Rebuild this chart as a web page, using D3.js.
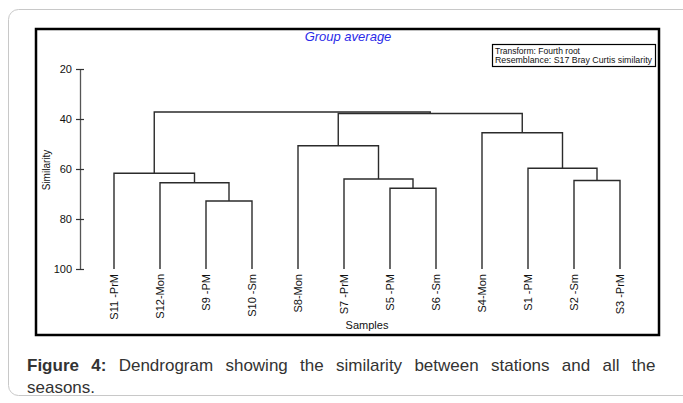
<!DOCTYPE html>
<html>
<head>
<meta charset="utf-8">
<script src="https://cdn.jsdelivr.net/npm/d3@7"></script>
<style>
  body { margin: 0; background: #fff; }
  svg { display: block; font-family: "Liberation Sans", Arial, sans-serif; }
</style>
</head>
<body>
<script>
// Leaf order along the x axis
var leaves = ["S11 -PrM", "S12-Mon", "S9 -PM", "S10 -Sm", "S8-Mon", "S7 -PrM",
              "S5 -PM", "S6 -Sm", "S4-Mon", "S1 -PM", "S2 -Sm", "S3 -PrM"];

// Merges: node ids 0..11 are leaves, merge k gets id 12 + k
var mergeLeft   = [2, 1, 0, 6, 5, 4, 10, 9, 8, 17, 14];
var mergeRight  = [3, 12, 13, 7, 15, 16, 11, 18, 19, 20, 21];
var mergeHeight = [72.8, 65.5, 61.7, 67.7, 64.0, 50.7, 64.6, 59.7, 45.5, 37.8, 37.2];

var yTicks = [20, 40, 60, 80, 100];

var width = 683, height = 403;

var svg = d3.select("body").append("svg")
    .attr("width", width)
    .attr("height", height);

// outer card
svg.append("rect")
    .attr("x", 8.5).attr("y", 9.5)
    .attr("width", 700).attr("height", 386)
    .attr("rx", 10)
    .style("fill", "none")
    .style("stroke", "#c8c8c8");

// chart frame
svg.append("rect")
    .attr("x", 36).attr("y", 29)
    .attr("width", 623).attr("height", 306)
    .style("fill", "#fff")
    .style("stroke", "#000")
    .style("stroke-width", 2.5);

var x = d3.scalePoint().domain(leaves).range([114, 620]),
    y = d3.scaleLinear().domain([20, 100]).range([69, 269]);

// node positions
var nodeX = leaves.map(function(d) { return x(d); }),
    nodeY = leaves.map(function() { return y(100); });

mergeHeight.forEach(function(h, i) {
  nodeX.push((nodeX[mergeLeft[i]] + nodeX[mergeRight[i]]) / 2);
  nodeY.push(y(h));
});

var links = svg.append("g")
    .style("fill", "none")
    .style("stroke", "#2b2b2b")
    .style("stroke-width", 1.4);

mergeHeight.forEach(function(h, i) {
  var a = mergeLeft[i], b = mergeRight[i], yy = y(h);
  links.append("path")
      .attr("d", "M" + nodeX[a] + "," + nodeY[a] +
                 "V" + yy + "H" + nodeX[b] + "V" + nodeY[b]);
});

// y axis
var yAxis = svg.append("g")
    .attr("transform", "translate(80,0)")
    .call(d3.axisLeft(y).tickValues(yTicks).tickSizeOuter(0).tickSizeInner(4).tickPadding(4));

yAxis.select(".domain").style("stroke", "#555").style("stroke-width", 1.3);
yAxis.selectAll(".tick line").attr("x1", 4).attr("x2", -4).style("stroke", "#333").style("stroke-width", 1.2);
yAxis.selectAll(".tick text")
    .style("font-family", "Liberation Sans, Arial, sans-serif")
    .style("font-size", "11px")
    .style("fill", "#111");

svg.append("text")
    .attr("transform", "translate(50,170) rotate(-90)")
    .attr("text-anchor", "middle")
    .style("font-size", "10px")
    .style("fill", "#111")
    .text("Similarity");

// leaf labels
svg.selectAll(".leaf")
    .data(leaves)
  .enter().append("text")
    .attr("class", "leaf")
    .attr("transform", function(d) { return "translate(" + (x(d) + 4) + ",274) rotate(-90)"; })
    .attr("text-anchor", "end")
    .style("font-size", "11px")
    .style("fill", "#111")
    .text(String);

svg.append("text")
    .attr("x", 367).attr("y", 329)
    .attr("text-anchor", "middle")
    .style("font-size", "11px")
    .style("fill", "#111")
    .text("Samples");

// title
svg.append("text")
    .attr("x", 348).attr("y", 41)
    .attr("text-anchor", "middle")
    .style("font-size", "13px")
    .style("font-style", "italic")
    .style("fill", "#2a2ae8")
    .text("Group average");

// info box
svg.append("rect")
    .attr("x", 492.5).attr("y", 44.5)
    .attr("width", 163).attr("height", 22)
    .style("fill", "#fff")
    .style("stroke", "#000")
    .style("stroke-width", 1.2);

var info = ["Transform: Fourth root", "Resemblance: S17 Bray Curtis similarity"];
var infoLen = [85, 157];
info.forEach(function(t, i) {
  svg.append("text")
      .attr("x", 495).attr("y", 53.5 + i * 9.5)
      .attr("textLength", infoLen[i])
      .attr("lengthAdjust", "spacingAndGlyphs")
      .style("font-size", "9px")
      .style("fill", "#111")
      .text(t);
});

// caption (justified first line)
var cap1 = svg.append("text")
    .attr("x", 27).attr("y", 371)
    .style("font-size", "17px")
    .style("fill", "#333");
cap1.append("tspan").style("font-weight", "bold").text("Figure 4:");
cap1.append("tspan").text(" Dendrogram showing the similarity between stations and all the");

var natural = cap1.node().getComputedTextLength();
cap1.style("word-spacing", Math.max(0, (636 - natural) / 11) + "px");

svg.append("text")
    .attr("x", 27).attr("y", 393)
    .style("font-size", "17px")
    .style("fill", "#333")
    .text("seasons.");
</script>
</body>
</html>
